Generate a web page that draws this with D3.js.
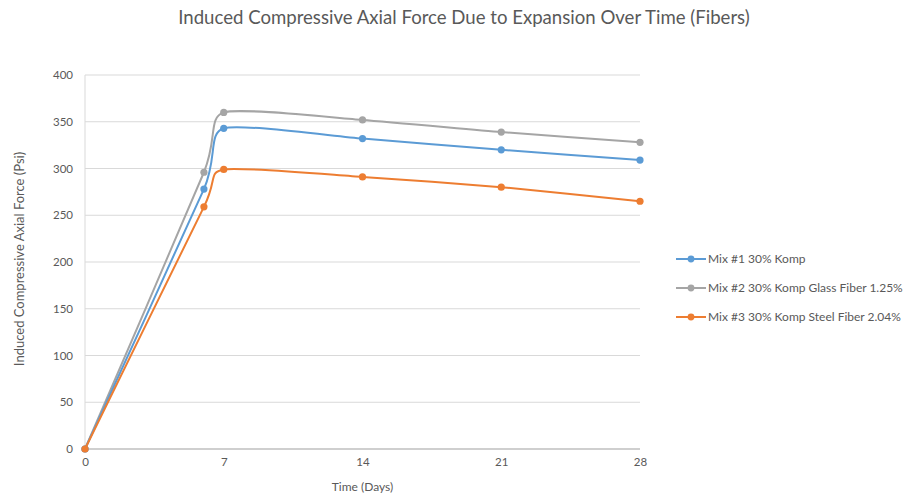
<!DOCTYPE html>
<html>
<head>
<meta charset="utf-8">
<script src="https://cdn.jsdelivr.net/npm/d3@7"></script>
<style>
  body { margin: 0; background: #fff; }
  text { font-family: Lato, "Open Sans", sans-serif; fill: #595959; }
</style>
</head>
<body>
<svg class="chart-svg"></svg>
<script>
const days = [0, 6, 7, 14, 21, 28];
const mix1 = [0, 278, 343, 332, 320, 309];
const mix2 = [0, 296, 360, 352, 339, 328];
const mix3 = [0, 259, 299, 291, 280, 265];
const seriesNames = [
  "Mix #1 30% Komp",
  "Mix #2 30% Komp Glass Fiber 1.25%",
  "Mix #3 30% Komp Steel Fiber 2.04%"
];
const xTicks = [0, 7, 14, 21, 28];
const yTicks = [0, 50, 100, 150, 200, 250, 300, 350, 400];
const colors = ["#5b9bd5", "#a5a5a5", "#ed7d31"];

const W = 907, H = 501;
const marginLeft = 85, marginTop = 75, width = 555, height = 374;

const svg = d3.select(".chart-svg").attr("width", W).attr("height", H);

const xScale = d3.scaleLinear().domain([0, 28]).range([0, width]);
const yScale = d3.scaleLinear().domain([0, 400]).range([height, 0]);

const chart = svg.append("g").attr("transform", `translate(${marginLeft}, ${marginTop})`);

// grid
chart
  .append("g")
  .selectAll("line")
  .data(yTicks)
  .enter()
  .append("line")
  .attr("x1", 0)
  .attr("x2", width)
  .attr("y1", (d) => yScale(d))
  .attr("y2", (d) => yScale(d))
  .attr("stroke", (d) => (d === 0 ? "#bfbfbf" : "#d9d9d9"))
  .attr("stroke-width", (d) => (d === 0 ? 1.5 : 1));

chart
  .append("line")
  .attr("x1", 0)
  .attr("x2", 0)
  .attr("y1", 0)
  .attr("y2", height)
  .attr("stroke", "#d9d9d9");

// y axis labels
chart
  .append("g")
  .call(d3.axisLeft(yScale).tickValues(yTicks).tickSize(0).tickPadding(12))
  .call((g) => g.select(".domain").remove())
  .selectAll("text")
  .style("font-size", "11.5px")
  .attr("fill", "#595959");

// x axis labels
chart
  .append("g")
  .attr("transform", `translate(0, ${height})`)
  .call(d3.axisBottom(xScale).tickValues(xTicks).tickSize(0).tickPadding(9))
  .call((g) => g.select(".domain").remove())
  .selectAll("text")
  .style("font-size", "11.5px")
  .attr("fill", "#595959");

svg
  .append("text")
  .attr("x", 464)
  .attr("y", 24)
  .attr("text-anchor", "middle")
  .style("font-size", "18.6px")
  .text("Induced Compressive Axial Force Due to Expansion Over Time (Fibers)");

svg
  .append("text")
  .attr("x", marginLeft + width / 2)
  .attr("y", 491)
  .attr("text-anchor", "middle")
  .style("font-size", "12px")
  .text("Time (Days)");

svg
  .append("text")
  .attr("transform", "translate(24, 259) rotate(-90)")
  .attr("text-anchor", "middle")
  .style("font-size", "13px")
  .text("Induced Compressive Axial Force  (Psi)");

const allSeries = [mix1, mix2, mix3];
const line = d3
  .line()
  .x((d, i) => xScale(days[i]))
  .y((d) => yScale(d))
  .curve(d3.curveCardinal.tension(0.4));

// draw order: gray, blue, orange
[1, 0, 2].forEach((k) => {
  const vals = allSeries[k];
  chart
    .append("path")
    .datum(vals)
    .attr("d", line)
    .attr("fill", "none")
    .attr("stroke", colors[k])
    .attr("stroke-width", 2);
  chart
    .append("g")
    .selectAll("circle")
    .data(vals)
    .enter()
    .append("circle")
    .attr("cx", (d, i) => xScale(days[i]))
    .attr("cy", (d) => yScale(d))
    .attr("r", 3.6)
    .attr("fill", colors[k]);
});

// legend
const legend = svg.append("g").attr("transform", "translate(676, 259)");
seriesNames.forEach((name, k) => {
  const row = legend.append("g").attr("transform", `translate(0, ${k * 29})`);
  row
    .append("line")
    .attr("x1", 0)
    .attr("x2", 30)
    .attr("stroke", colors[k])
    .attr("stroke-width", 2);
  row.append("circle").attr("cx", 15).attr("r", 3.4).attr("fill", colors[k]);
  row
    .append("text")
    .attr("x", 32)
    .attr("y", 4)
    .style("font-size", "12px")
    .text(name);
});
</script>
</body>
</html>
